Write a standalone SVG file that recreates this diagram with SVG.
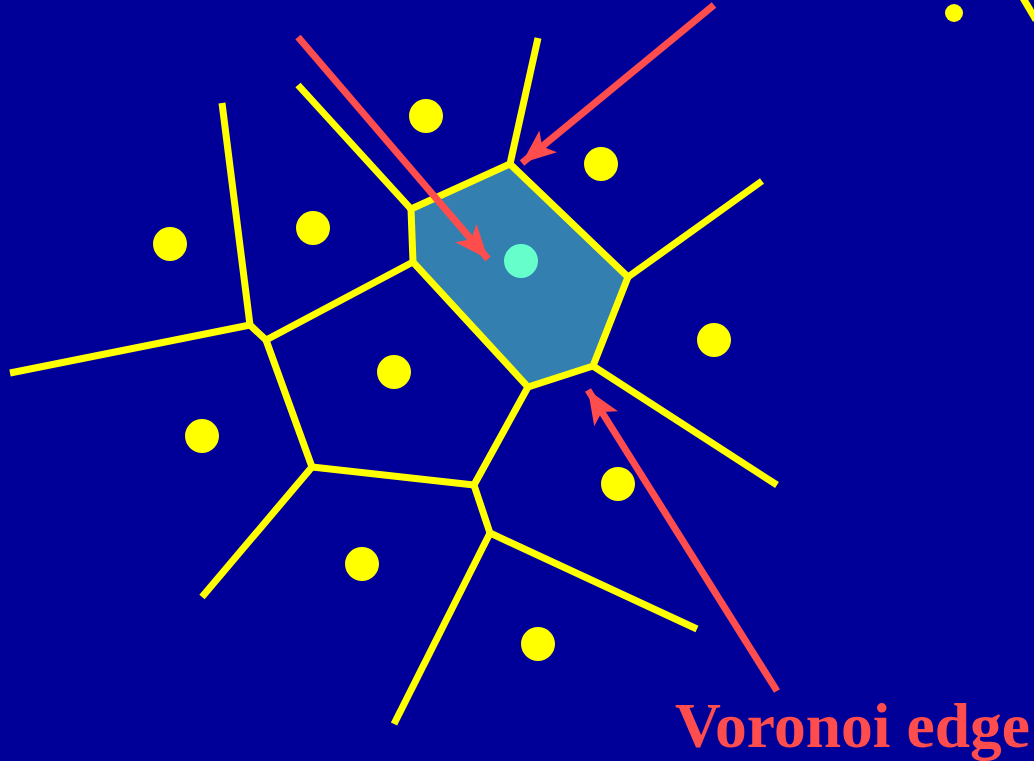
<svg xmlns="http://www.w3.org/2000/svg" width="1034" height="761" viewBox="0 0 1034 761">
<defs>
<style>
.e{stroke:#FFFF00;stroke-width:7;fill:none;stroke-linejoin:miter;stroke-linecap:butt}
.s{fill:#FFFF00}
.a{stroke:#FF4D4D;stroke-width:7;fill:none}
</style>
<marker id="ah" markerUnits="userSpaceOnUse" markerWidth="36" markerHeight="30" refX="34" refY="14" orient="auto" viewBox="0 0 36 28">
<path d="M0,0 L34,14 L0,28 L8,14 Z" fill="#FF4D4D"/>
</marker>
</defs>
<rect width="1034" height="761" fill="#000099"/>
<g id="cell">
<polygon points="510,164 411,209 413,262 528,387 593,366 628,277" style="fill:#3380B0;stroke:#FFFF00;stroke-width:7"/>
</g>
<g id="edges">
<path class="e" d="M510,164 L538,38"/>
<path class="e" d="M411,209 L298,85"/>
<path class="e" d="M628,277 L762,181"/>
<path class="e" d="M593,366 L777,485"/>
<path class="e" d="M413,262 L266,340 L250,325 L222,103"/>
<path class="e" d="M250,325 L10,373"/>
<path class="e" d="M266,340 L312,467 L474,485 L528,387"/>
<path class="e" d="M312,467 L202,597"/>
<path class="e" d="M474,485 L490,533 L697,629"/>
<path class="e" d="M490,533 L394,724"/>
<path class="e" d="M1023,-2 L1036,20"/>
</g>
<g id="sites">
<circle class="s" cx="426" cy="116" r="17"/>
<circle class="s" cx="601" cy="164" r="17"/>
<circle class="s" cx="313" cy="228" r="17"/>
<circle class="s" cx="170" cy="244" r="17"/>
<circle class="s" cx="714" cy="340" r="17"/>
<circle class="s" cx="394" cy="372" r="17"/>
<circle class="s" cx="202" cy="436" r="17"/>
<circle class="s" cx="618" cy="484" r="17"/>
<circle class="s" cx="362" cy="564" r="17"/>
<circle class="s" cx="538" cy="644" r="17"/>
<circle class="s" cx="954" cy="13" r="9"/>
<circle cx="521" cy="261" r="17" fill="#66FFCC"/>
</g>
<g id="connectors">
<line class="a" x1="298" y1="37" x2="488" y2="259" marker-end="url(#ah)"/>
<line class="a" x1="714" y1="5" x2="522" y2="163" marker-end="url(#ah)"/>
<line class="a" x1="777" y1="691" x2="588" y2="390" marker-end="url(#ah)"/>
</g>
<g id="label">
<text x="675" y="747" font-family="'Liberation Serif', serif" font-weight="bold" font-size="64" fill="#FF4D4D" textLength="355" lengthAdjust="spacingAndGlyphs">Voronoi edge</text>
</g>
</svg>
